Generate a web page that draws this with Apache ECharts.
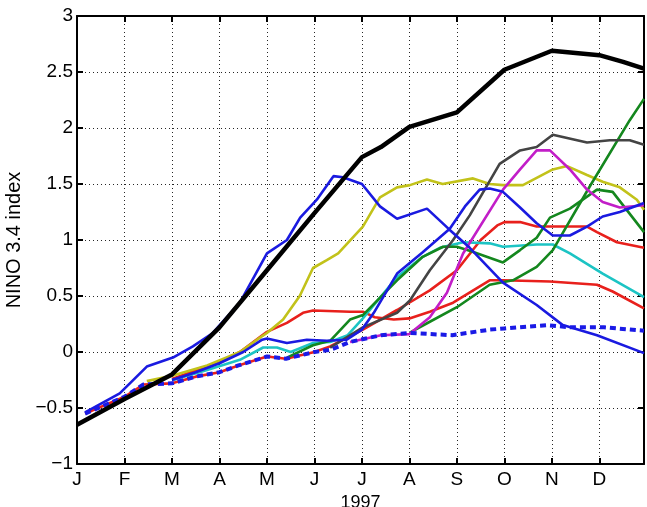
<!DOCTYPE html>
<html><head><meta charset="utf-8">
<script src="https://cdn.jsdelivr.net/npm/echarts@6/dist/echarts.min.js"></script>
<style>html,body{margin:0;padding:0;background:#fff}#c{width:647px;height:507px}</style>
</head><body><div id="c"></div>
<script>
var monthLabels = ['J','F','M','A','M','J','J','A','S','O','N','D'];
var yearLabel = '1997';
var yTitle = 'NINO 3.4 index';

var observed = [[0,-0.65],[1,-0.42],[2,-0.2],[3,0.22],[4,0.73],[5,1.24],[6,1.74],[6.4,1.83],[7,2.01],[8,2.14],[9,2.52],[10,2.69],[11,2.65],[11.5,2.59],[11.94,2.53]];
var dashedBlue = [[0.17,-0.55],[1,-0.4],[1.4,-0.29],[2,-0.28],[2.5,-0.22],[3,-0.18],[3.4,-0.12],[4,-0.04],[4.4,-0.06],[5,0.0],[5.35,0.02],[5.75,0.09],[6.4,0.15],[7,0.17],[7.9,0.15],[8.7,0.2],[9,0.21],[9.9,0.24],[10.4,0.22],[11.1,0.22],[11.94,0.19]];
var redA = [[0.17,-0.55],[1,-0.4],[1.4,-0.29],[2,-0.28],[2.5,-0.22],[3,-0.18],[3.4,-0.12],[4,-0.04],[4.4,-0.06],[5,0.0],[5.33,0.05],[6.02,0.2],[6.74,0.375],[7.43,0.55],[8.0,0.73],[8.5,1.0],[8.85,1.13],[9.0,1.16],[9.33,1.16],[9.68,1.12],[10.74,1.12],[10.95,1.07],[11.37,0.98],[11.94,0.93]];
var redB = [[2.0,-0.24],[3.0,-0.09],[3.43,0.0],[4.0,0.18],[4.42,0.26],[4.76,0.35],[4.97,0.37],[5.75,0.36],[6.02,0.36],[6.27,0.31],[6.67,0.29],[7.0,0.3],[7.43,0.36],[7.92,0.44],[8.69,0.64],[8.97,0.64],[9.96,0.63],[10.95,0.6],[11.28,0.54],[11.94,0.39]];
var yellow = [[1.47,-0.26],[2.02,-0.21],[2.74,-0.12],[3.43,0.0],[3.79,0.11],[4.0,0.17],[4.34,0.29],[4.69,0.5],[4.97,0.75],[5.26,0.82],[5.5,0.88],[6.02,1.12],[6.38,1.38],[6.74,1.47],[7.01,1.49],[7.37,1.54],[7.7,1.5],[8.34,1.55],[8.69,1.5],[8.97,1.49],[9.39,1.49],[10.02,1.63],[10.32,1.66],[10.74,1.58],[11.07,1.52],[11.43,1.47],[11.79,1.36],[11.94,1.27]];
var cyan = [[2.02,-0.25],[2.74,-0.16],[3.43,-0.07],[3.92,0.04],[4.21,0.04],[4.5,0.0],[4.97,0.08],[5.33,0.09],[5.7,0.15],[6.02,0.3],[6.74,0.67],[7.28,0.85],[7.64,0.93],[8.13,0.98],[8.69,0.97],[8.97,0.94],[9.68,0.96],[10.02,0.96],[10.38,0.88],[11.07,0.7],[11.94,0.49]];
var greenA = [[4.42,-0.05],[4.97,0.06],[5.33,0.1],[5.75,0.29],[6.02,0.33],[6.74,0.64],[7.28,0.85],[7.71,0.94],[8.0,0.94],[8.3,0.9],[8.97,0.8],[9.33,0.91],[9.68,1.02],[9.96,1.2],[10.38,1.28],[10.95,1.45],[11.28,1.43],[11.94,1.07]];
var greenB = [[7.0,0.17],[7.43,0.27],[8.0,0.4],[8.69,0.6],[9.18,0.64],[9.68,0.76],[10.02,0.91],[10.8,1.48],[11.64,2.07],[11.94,2.26]];
var gray = [[5.33,0.04],[6.02,0.22],[6.74,0.35],[7.01,0.46],[7.43,0.73],[7.92,1.0],[8.27,1.22],[8.9,1.68],[9.33,1.8],[9.68,1.83],[10.02,1.94],[10.74,1.87],[11.22,1.89],[11.64,1.89],[11.94,1.85]];
var magenta = [[5.75,0.09],[6.4,0.15],[7.0,0.16],[7.43,0.31],[7.79,0.53],[8.13,0.88],[8.97,1.45],[9.33,1.63],[9.68,1.8],[9.96,1.8],[10.38,1.63],[10.74,1.45],[11.07,1.34],[11.43,1.29],[11.94,1.31]];
var blueA = [[0.17,-0.54],[0.9,-0.37],[1.47,-0.13],[2.02,-0.05],[2.44,0.05],[2.86,0.17],[3.43,0.44],[4.0,0.88],[4.42,1.0],[4.7,1.2],[5.05,1.36],[5.4,1.57],[5.6,1.56],[6.0,1.5],[6.38,1.3],[6.74,1.19],[7.37,1.28],[7.85,1.09],[8.27,0.93],[8.97,0.62],[9.68,0.42],[10.23,0.24],[10.95,0.15],[11.94,-0.01]];
var blueB = [[2.0,-0.25],[2.5,-0.18],[3.0,-0.1],[3.5,0.0],[3.9,0.11],[4.0,0.12],[4.42,0.08],[4.84,0.11],[5.26,0.1],[5.68,0.11],[6.0,0.2],[6.25,0.35],[6.74,0.7],[7.28,0.89],[7.85,1.1],[8.17,1.3],[8.48,1.45],[8.69,1.46],[8.97,1.43],[9.33,1.29],[9.68,1.15],[10.02,1.04],[10.38,1.04],[10.74,1.12],[11.07,1.21],[11.43,1.25],[11.94,1.33]];

var FONT = 'Arial, "Liberation Sans", Helvetica, sans-serif';
function line(data, color, width, type, z) {
  return {type:'line', data:data, showSymbol:false, symbol:'none', smooth:false, z:z||2,
    lineStyle:{color:color, width:width, type:type||'solid'}, xAxisIndex:0, yAxisIndex:0};
}
var chart = echarts.init(document.getElementById('c'), null, {renderer:'canvas'});
var gridLine = {show:true, lineStyle:{color:'#000', width:1, type:[1,3], opacity:0.85}};
chart.setOption({
  animation:false,
  backgroundColor:'#fff',
  grid:{left:77, top:16, width:567, height:448, containLabel:false, outerBoundsMode:'none'},
  xAxis:[
    {type:'value', min:0, max:11.94, interval:1, position:'bottom',
     axisLine:{show:true, onZero:false, lineStyle:{color:'#000', width:2}},
     axisTick:{show:true, inside:true, length:6, lineStyle:{color:'#000', width:2}},
     axisLabel:{show:true, color:'#000', fontSize:19, fontFamily:FONT, margin:6,
       formatter:function(v){ return (Math.abs(v-Math.round(v))<1e-6 && v<12) ? monthLabels[Math.round(v)] : ''; }},
     splitLine:gridLine,
     name:yearLabel, nameLocation:'middle', nameGap:24, nameTextStyle:{color:'#000', fontSize:18, fontFamily:FONT}},
    {type:'value', min:0, max:11.94, interval:1, position:'top',
     axisLine:{show:true, onZero:false, lineStyle:{color:'#000', width:2}},
     axisTick:{show:true, inside:true, length:6, lineStyle:{color:'#000', width:2}},
     axisLabel:{show:false}, splitLine:{show:false}}
  ],
  yAxis:[
    {type:'value', min:-1, max:3, interval:0.5, position:'left',
     axisLine:{show:true, onZero:false, lineStyle:{color:'#000', width:2}},
     axisTick:{show:true, inside:true, length:6, lineStyle:{color:'#000', width:2}},
     axisLabel:{show:true, color:'#000', fontSize:19, fontFamily:FONT, margin:4,
       formatter:function(v){ return String(v).replace('-', '\u2212'); }},
     splitLine:gridLine,
     name:yTitle, nameLocation:'middle', nameGap:48, nameRotate:90,
     nameTextStyle:{color:'#000', fontSize:20, fontFamily:FONT}},
    {type:'value', min:-1, max:3, interval:0.5, position:'right',
     axisLine:{show:true, onZero:false, lineStyle:{color:'#000', width:2}},
     axisTick:{show:true, inside:true, length:6, lineStyle:{color:'#000', width:2}},
     axisLabel:{show:false}, splitLine:{show:false}}
  ],
  series:[
    line(redA, '#e8201c', 2.6, 'solid', 2),
    line(redB, '#e8201c', 2.6, 'solid', 2),
    line(yellow, '#c2c21a', 2.6, 'solid', 2),
    line(cyan, '#1cc4c4', 2.6, 'solid', 2),
    line(greenA, '#14871e', 2.6, 'solid', 2),
    line(greenB, '#14871e', 2.6, 'solid', 2),
    line(gray, '#444444', 2.6, 'solid', 2),
    line(magenta, '#c21ec8', 2.6, 'solid', 2),
    line(blueB, '#1a1ae0', 2.6, 'solid', 2),
    line(blueA, '#1a1ae0', 2.6, 'solid', 2),
    line(dashedBlue, '#1a1ae6', 4, [6,4], 3),
    line(observed, '#000000', 4.5, 'solid', 4)
  ]
});
</script></body></html>
